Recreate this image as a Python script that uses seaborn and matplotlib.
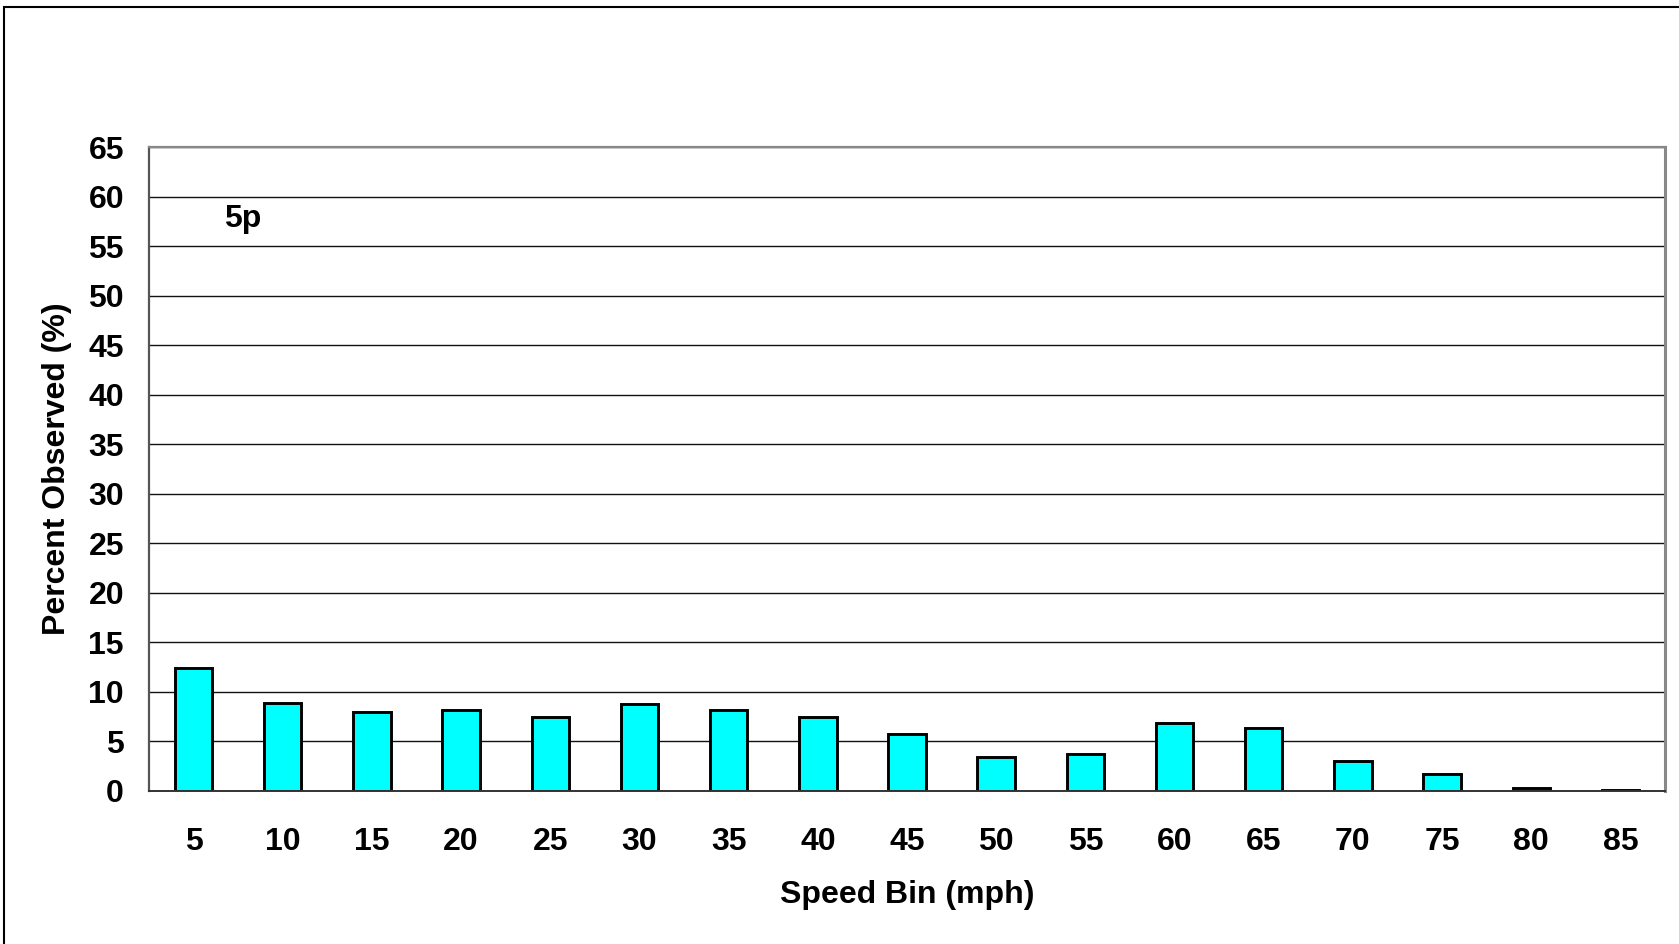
import matplotlib
matplotlib.use("Agg")
import matplotlib.pyplot as plt
from matplotlib.patches import Rectangle
from matplotlib.ticker import FixedLocator, MultipleLocator
import seaborn as sns
import pandas as pd

# Speed distribution for the 5p period
speed_bins = ["5", "10", "15", "20", "25", "30", "35", "40", "45",
              "50", "55", "60", "65", "70", "75", "80", "85"]
percent_observed = [12.4, 8.9, 8.0, 8.2, 7.5, 8.75, 8.2, 7.5, 5.75,
                    3.45, 3.7, 6.85, 6.4, 3.05, 1.72, 0.3, 0.12]
period_label = "5p"

sns.set_style("white")
plt.rcParams["font.family"] = ["Liberation Sans", "DejaVu Sans"]
plt.rcParams["font.weight"] = "bold"
plt.rcParams["text.color"] = "black"
plt.rcParams["axes.labelcolor"] = "black"
plt.rcParams["xtick.color"] = "black"
plt.rcParams["ytick.color"] = "black"

FS = 23
W, H, DPI = 1679, 944, 100
fig = plt.figure(figsize=(W / DPI, H / DPI), dpi=DPI)

# plot area in pixels
left, right, top, bottom = 149, 1665, 147, 791
ax = fig.add_axes([left / W, 1 - bottom / H, (right - left) / W, (bottom - top) / H])

df = pd.DataFrame({"bin": speed_bins, "pct": percent_observed})
sns.barplot(data=df, x="bin", y="pct", order=speed_bins, color="#00FFFF",
            saturation=1, width=0.42, edgecolor="black", linewidth=2.1, ax=ax)

ax.set_xlim(-0.5, len(speed_bins) - 0.5)
ax.set_ylim(0, 65)
ax.yaxis.set_major_locator(MultipleLocator(5))
ax.yaxis.grid(True, color="#111111", linewidth=1.0)
ax.set_axisbelow(True)

# category boundary ticks on the x axis, labels centred under the bars
ax.xaxis.set_minor_locator(FixedLocator([i - 0.5 for i in range(len(speed_bins) + 1)]))
ax.tick_params(axis="x", which="major", length=0, pad=26, labelsize=FS)
ax.tick_params(axis="x", which="minor", length=7, width=1.0, color="#222222", direction="out")
ax.tick_params(axis="y", which="major", length=7, width=1.0, color="#222222",
               direction="out", pad=11, labelsize=FS)
for lbl in ax.get_xticklabels() + ax.get_yticklabels():
    lbl.set_fontweight("bold")

for side, col, lw in [("left", "#555555", 1.6), ("bottom", "#333333", 1.4),
                      ("top", "#888888", 1.6), ("right", "#888888", 2.2)]:
    ax.spines[side].set_visible(True)
    ax.spines[side].set_color(col)
    ax.spines[side].set_linewidth(lw)

ax.set_xlabel("Speed Bin (mph)", fontsize=FS, fontweight="bold")
ax.set_ylabel("Percent Observed (%)", fontsize=FS, fontweight="bold")
ax.xaxis.label.set_va("center")
ax.yaxis.label.set_va("center")
ax.xaxis.set_label_coords(0.5, (bottom - 895) / (bottom - top))
ax.yaxis.set_label_coords((57 - left) / (right - left), 0.5)

ax.text(0.55, 57.7, period_label, fontsize=FS, fontweight="bold",
        ha="center", va="center")

# chart frame
fig.patches.append(Rectangle((3.5 / W, -0.1), 1.2, 1 + 0.1 - 6.5 / H,
                             transform=fig.transFigure, fill=False,
                             edgecolor="black", linewidth=1.5))

fig.savefig("out.png", dpi=DPI, facecolor="white")
